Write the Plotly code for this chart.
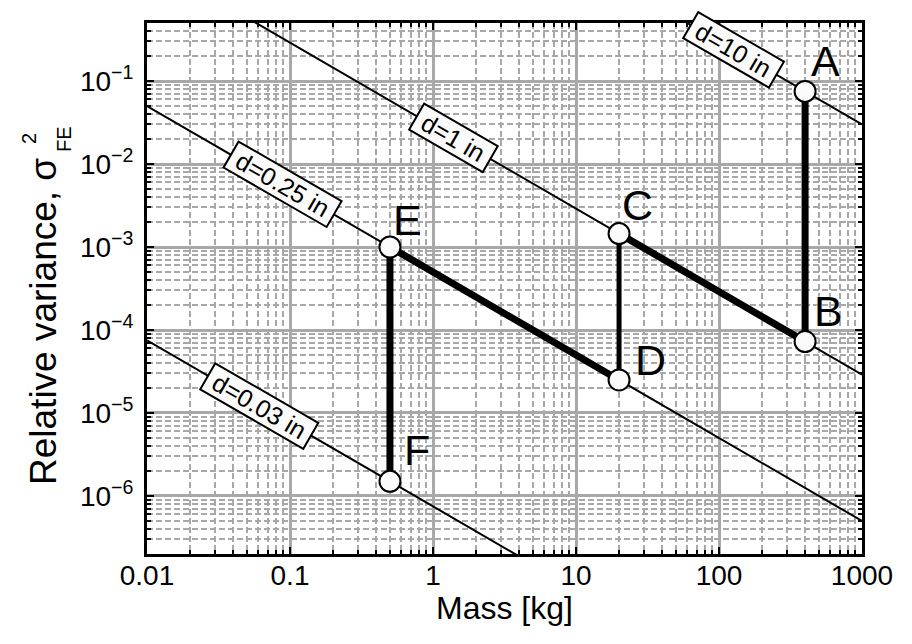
import math
import plotly.graph_objects as go

# ---- data ----
line_labels = ["d=10 in", "d=1 in", "d=0.25 in", "d=0.03 in"]
line_mass_ends = [0.01, 1000]
line_var_at_left = [3000, 2.9, 0.05, 7.5e-5]       # variance at mass 0.01 kg
line_var_at_right = [0.03, 2.9e-5, 5e-7, 7.5e-10]  # variance at mass 1000 kg
label_mass = [127, 1.4, 0.088, 0.061]
label_var = [0.236, 0.0207, 5.7e-3, 1.23e-5]

point_names = ["A", "B", "C", "D", "E", "F"]
point_mass = [400, 400, 20, 20, 0.5, 0.5]
point_var = [0.075, 7.25e-5, 1.45e-3, 2.5e-5, 1e-3, 1.5e-6]
segment_widths = [7, 7, 5, 7, 7]
letter_shift = [(20, 30), (23, 31), (18, 29), (31, 20), (18, 27), (27, 31)]

x_tickvals = [0.01, 0.1, 1, 10, 100, 1000]
x_ticktext = ["0.01", "0.1", "1", "10", "100", "1000"]
y_tickvals = [1e-6, 1e-5, 1e-4, 1e-3, 1e-2, 1e-1]
y_ticktext = ["10<sup>\u22126</sup>", "10<sup>\u22125</sup>", "10<sup>\u22124</sup>",
              "10<sup>\u22123</sup>", "10<sup>\u22122</sup>", "10<sup>\u22121</sup>"]

FONT = "Liberation Sans, Arial, sans-serif"
fig = go.Figure()

# constant-diameter lines
for lab, yl, yr in zip(line_labels, line_var_at_left, line_var_at_right):
    fig.add_trace(go.Scatter(x=line_mass_ends, y=[yl, yr], mode="lines",
                             line=dict(color="black", width=2), showlegend=False,
                             hoverinfo="skip"))

# path segments
for i, w in enumerate(segment_widths):
    fig.add_trace(go.Scatter(x=point_mass[i:i + 2], y=point_var[i:i + 2], mode="lines",
                             line=dict(color="black", width=w), showlegend=False))

# points
fig.add_trace(go.Scatter(x=point_mass, y=point_var, mode="markers",
                         marker=dict(size=21, color="#fbfbfb", line=dict(color="black", width=2)),
                         showlegend=False))

annotations = []
for lab, mx, vy in zip(line_labels, label_mass, label_var):
    annotations.append(dict(x=math.log10(mx), y=math.log10(vy), xref="x", yref="y",
                            text="\u00a0" + lab + "\u00a0",
                            showarrow=False, textangle=30,
                            font=dict(family=FONT, size=25, color="black"),
                            bgcolor="#fbfbfb", bordercolor="black", borderwidth=2, borderpad=0,
                            xanchor="center", yanchor="middle"))
for name, mx, vy, (dx, dy) in zip(point_names, point_mass, point_var, letter_shift):
    annotations.append(dict(x=math.log10(mx), y=math.log10(vy), xref="x", yref="y", text=name,
                            showarrow=False, xshift=dx, yshift=dy,
                            font=dict(family=FONT, size=43, color="black",
                                      shadow="0px 0px 2px white"),
                            xanchor="center", yanchor="middle"))

# y-axis title with stacked super/subscript
annotations.append(dict(x=(43 - 147) / 715, y=(554 - 322) / 531, xref="paper", yref="paper",
                        text="Relative variance, \u03c3", textangle=-90, showarrow=False,
                        font=dict(family=FONT, size=37, color="black"),
                        xanchor="center", yanchor="middle"))
annotations.append(dict(x=(29 - 147) / 715, y=(554 - 139) / 531, xref="paper", yref="paper",
                        text="2", textangle=-90, showarrow=False,
                        font=dict(family=FONT, size=20, color="black"),
                        xanchor="center", yanchor="middle"))
annotations.append(dict(x=(64 - 147) / 715, y=(554 - 139) / 531, xref="paper", yref="paper",
                        text="FE", textangle=-90, showarrow=False,
                        font=dict(family=FONT, size=20, color="black"),
                        xanchor="center", yanchor="middle"))
# x-axis title
annotations.append(dict(x=0.5, y=(554 - 608) / 531, xref="paper", yref="paper",
                        text="Mass [kg]", showarrow=False,
                        font=dict(family=FONT, size=32, color="black"),
                        xanchor="center", yanchor="middle"))

grid_major = "#a8a8a8"
minor = dict(ticks="inside", ticklen=4, tickcolor="black", tickwidth=1.5, showgrid=True,
             gridcolor=grid_major, griddash="6px,3px", gridwidth=2, dtick="D1")

# page body has an 8px margin: shift plot-area margins accordingly
fig.update_layout(
    width=912, height=644,
    margin=dict(l=139, r=58, t=15, b=98),
    paper_bgcolor="white", plot_bgcolor="white",
    font=dict(family=FONT, color="black"),
    annotations=annotations,
    xaxis=dict(type="log", range=[-2, 3], tickvals=x_tickvals, ticktext=x_ticktext,
               ticks="inside", ticklen=7, tickwidth=1.5, tickcolor="black",
               showline=True, linecolor="black", linewidth=3, mirror="ticks",
               showgrid=True, gridcolor=grid_major, gridwidth=2.5,
               tickfont=dict(size=28), ticklabelstandoff=-6,
               minor=minor, zeroline=False),
    yaxis=dict(type="log", range=[-6.699, -0.301], tickvals=y_tickvals, ticktext=y_ticktext,
               ticks="inside", ticklen=7, tickwidth=1.5, tickcolor="black",
               showline=True, linecolor="black", linewidth=3, mirror="ticks",
               showgrid=True, gridcolor=grid_major, gridwidth=2.5,
               tickfont=dict(size=28), ticklabelstandoff=5,
               minor=minor, zeroline=False),
)

fig.write_html("out.html")
